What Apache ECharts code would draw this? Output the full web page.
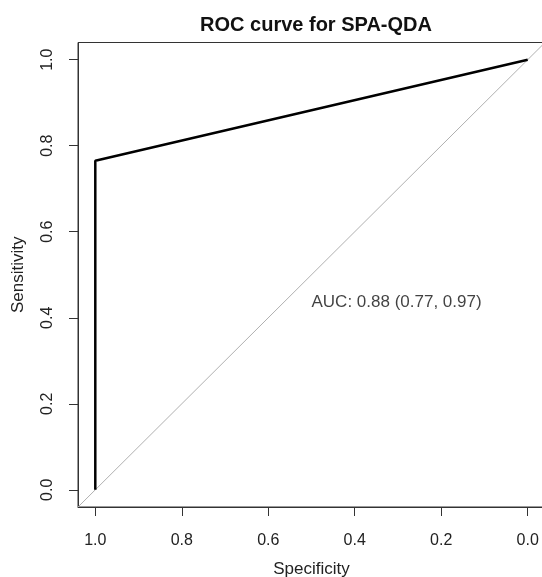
<!DOCTYPE html>
<html>
<head>
<meta charset="utf-8">
<script src="https://cdn.jsdelivr.net/npm/echarts@6/dist/echarts.min.js"></script>
<style>
  html, body { margin: 0; padding: 0; background: #fff; }
  #chart { width: 542px; height: 577px; }
</style>
</head>
<body>
<div id="chart"></div>
<script>
// ROC curve points (specificity, sensitivity)
const rocSpec = [1.0, 1.0, 0.0];
const rocSens = [0.0, 0.765, 1.0];
// chance diagonal, drawn across the full plot range
const diagSpec = [1.04, -0.04];
const diagSens = [-0.04, 1.04];
const tickValues = [0, 0.2, 0.4, 0.6, 0.8, 1.0];
const aucText = 'AUC: 0.88 (0.77, 0.97)';
const aucPos = [0.5, 0.435];

const font = '"Liberation Sans", Arial, sans-serif';
const axisColor = '#333';

const chart = echarts.init(document.getElementById('chart'));

function pairs(xs, ys) {
  return xs.map((x, i) => [x, ys[i]]);
}

const axisBase = {
  type: 'value',
  min: -0.04,
  max: 1.04,
  splitLine: { show: false },
  axisLine: { show: true, onZero: false, lineStyle: { color: axisColor, width: 1 } },
  axisTick: { show: true, length: 9, customValues: tickValues, lineStyle: { color: axisColor } },
  axisLabel: {
    customValues: tickValues,
    color: '#222',
    fontFamily: font,
    fontSize: 16,
    formatter: v => v.toFixed(1)
  },
  nameLocation: 'middle',
  nameTextStyle: { color: '#222', fontFamily: font, fontSize: 17 }
};

chart.setOption({
  animation: false,
  title: {
    text: 'ROC curve for SPA-QDA',
    left: 311,
    top: 10,
    textAlign: 'center',
    textStyle: { fontFamily: font, fontSize: 20, fontWeight: 'bold', color: '#111' }
  },
  grid: {
    left: 78,
    top: 42.5,
    width: 467,
    height: 464.5,
    outerBoundsMode: 'none',
    show: true,
    borderColor: axisColor,
    borderWidth: 1
  },
  xAxis: Object.assign({}, axisBase, {
    inverse: true,
    name: 'Specificity',
    nameGap: 54,
    axisLabel: Object.assign({}, axisBase.axisLabel, { margin: 26 })
  }),
  yAxis: Object.assign({}, axisBase, {
    name: 'Sensitivity',
    nameGap: 51,
    axisLabel: Object.assign({}, axisBase.axisLabel, { rotate: 90, margin: 22 })
  }),
  series: [
    {
      type: 'line',
      data: pairs(diagSpec, diagSens),
      symbol: 'none',
      lineStyle: { color: '#b0b0b0', width: 1 },
      z: 1
    },
    {
      type: 'line',
      data: pairs(rocSpec, rocSens),
      symbol: 'none',
      lineStyle: { color: '#000', width: 2.5 },
      z: 2
    },
    {
      type: 'scatter',
      data: [aucPos],
      symbolSize: 0,
      silent: true,
      label: {
        show: true,
        position: 'right',
        distance: 0,
        formatter: aucText,
        color: '#111',
        fontFamily: font,
        fontSize: 17
      }
    }
  ]
});
</script>
</body>
</html>
